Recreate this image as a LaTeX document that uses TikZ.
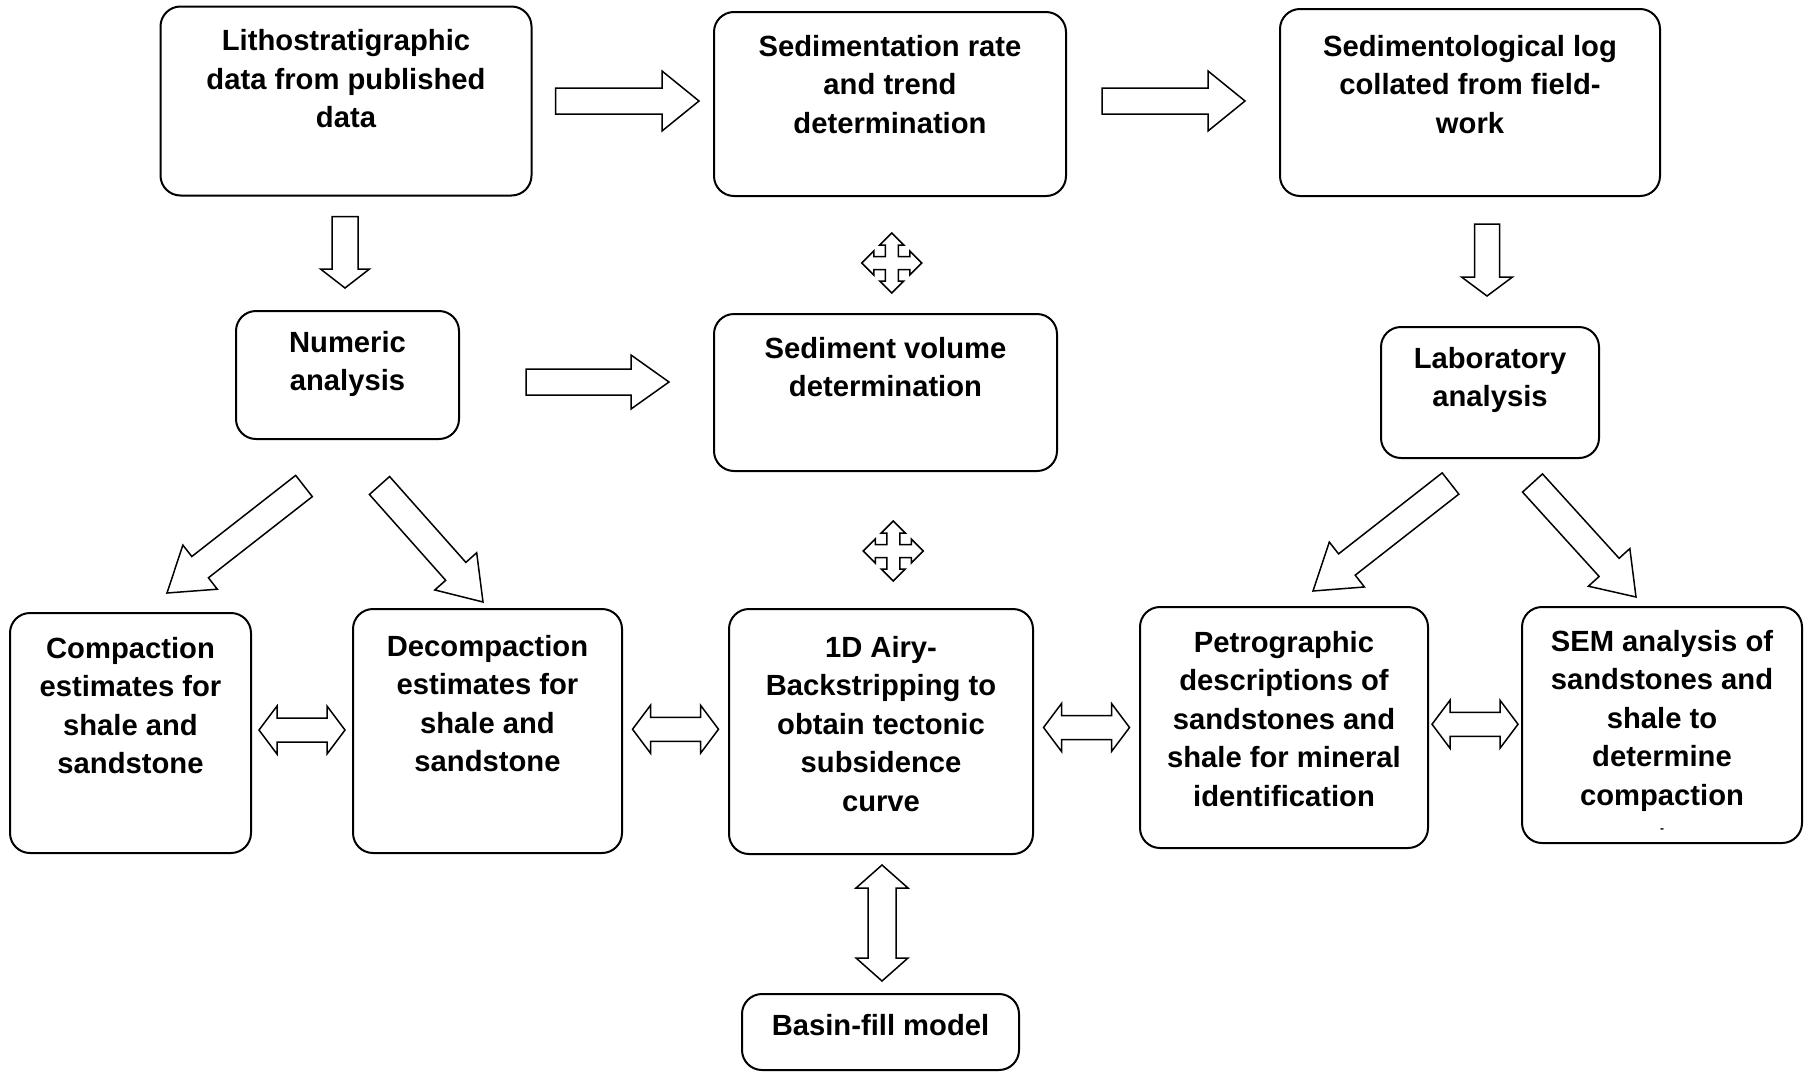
\documentclass[tikz,border=0pt]{standalone}
\usepackage{fontspec}
\setmainfont{Liberation Sans}
\usetikzlibrary{calc}

% angle and length between two points, kept for the block arrows
\newcommand\arrsetup[2]{%
  \path let \p1=#1, \p2=#2 in \pgfextra{%
    \pgfmathsetmacro\arrang{atan2((\y2)-(\y1),(\x2)-(\x1))}\global\let\arrang\arrang
    \pgfmathsetmacro\arrlen{veclen((\x2)-(\x1),(\y2)-(\y1))}\global\let\arrlen\arrlen};
}
% #1 tail, #2 tip, #3 shaft half width, #4 head half width, #5 head length
\newcommand\blkarrow[5]{%
  \arrsetup{#1}{#2}
  \draw[blk, shift={#1}, rotate=\arrang] (0,-#3) -- ({\arrlen-#5},-#3) -- ({\arrlen-#5},-#4)
    -- (\arrlen,0) -- ({\arrlen-#5},#4) -- ({\arrlen-#5},#3) -- (0,#3) -- cycle;
}
\newcommand\dblarrow[5]{%
  \arrsetup{#1}{#2}
  \draw[blk, shift={#1}, rotate=\arrang] (0,0) -- (#5,-#4) -- (#5,-#3) -- ({\arrlen-#5},-#3)
    -- ({\arrlen-#5},-#4) -- (\arrlen,0) -- ({\arrlen-#5},#4) -- ({\arrlen-#5},#3)
    -- (#5,#3) -- (#5,#4) -- cycle;
}
\newcommand\crossarrow[1]{%
  \draw[blk, shift={#1}] (6.5,-6.5) \foreach \r in {0,-90,-180,-270}{
    -- ([rotate=\r]6.5,-6.5) -- ([rotate=\r]18,-6.5) -- ([rotate=\r]18,-12) -- ([rotate=\r]30,0)
    -- ([rotate=\r]18,12) -- ([rotate=\r]18,6.5)} -- cycle;
}

\begin{document}
\begin{tikzpicture}[x=1pt, y=-1pt,
    box/.style={draw, line width=2, rounded corners=20, inner sep=0},
    txt/.style={anchor=north, align=center, inner sep=0, font=\fontsize{29.2}{38.5}\selectfont\bfseries},
    blk/.style={draw, fill=white, line width=1.5}]
  \useasboundingbox (0,0) rectangle (1804,1071);

  % boxes: name / centre / size / text offset / text
  \foreach \n/\cx/\cy/\w/\h/\p/\lbl in {
      litho/346/101/371/189/24/{Lithostratigraphic\\data from published\\data},
      rate/890/104/352/184/24/{Sedimentation rate\\and trend\\determination},
      sedlog/1470/102.5/380/187/27/{Sedimentological log\\collated from field-\\work},
      numeric/347.5/375/223/128/21/{Numeric\\analysis},
      volume/885.5/392.5/343/157/24/{Sediment volume\\determination},
      lab/1490/392.5/218/131/21/{Laboratory\\analysis},
      comp/130.5/733/241/240/25/{Compaction\\estimates for\\shale and\\sandstone},
      decomp/487.5/731/269/244/27/{Decompaction\\estimates for\\shale and\\sandstone},
      airy/881/731.5/304/245/28/{1D Airy-\\Backstripping to\\obtain tectonic\\subsidence\\curve},
      petro/1284/727.5/288/241/25/{Petrographic\\descriptions of\\sandstones and\\shale for mineral\\identification},
      sem/1662/725/280/236/24/{SEM analysis of\\sandstones and\\shale to\\determine\\compaction\\[-11pt]{\fontsize{12}{12}\selectfont -}},
      basin/880.5/1032/277/76/21/{Basin-fill model}}{
    \node[box, minimum width=\w, minimum height=\h] (\n) at (\cx,\cy) {};
    \node[txt] (\n-t) at ([yshift=-\p]\n.north) {\lbl};
  }

  % top row
  \blkarrow{($(litho.east)+(23,0)$)}{($(litho.east -| rate.west)+(-14,0)$)}{13}{30}{37}
  \blkarrow{($(rate.east)+(35,-3)$)}{($(rate.east -| sedlog.west)+(-34,-3)$)}{13}{30}{37}
  \blkarrow{($(litho.south)+(-1,20)$)}{($(litho.south |- numeric.north)+(-1,-22)$)}{13}{24.5}{19}
  \blkarrow{($(sedlog.south)+(17,27)$)}{($(sedlog.south |- lab.north)+(17,-30)$)}{12.5}{25.5}{19}
  \blkarrow{($(numeric.east)+(66,7)$)}{($(numeric.east -| volume.west)+(-44,7)$)}{13}{27}{38}

  \crossarrow{($(rate.south)!.5!(volume.north)+(4,8)$)}
  \crossarrow{($(volume.south)!.5!(airy.north)+(10,11)$)}

  % diagonal ones
  \blkarrow{($(numeric.south)+(-43.5,46)$)}{($(comp.north)+(36.5,-19)$)}{13.5}{28}{42}
  \blkarrow{($(numeric.south)+(32,45.5)$)}{($(decomp.north)+(-4.5,-6)$)}{13.5}{28}{41}
  \blkarrow{($(lab.south)+(-39.5,24.5)$)}{($(petro.north)+(29,-15)$)}{13.5}{28.5}{43}
  \blkarrow{($(lab.south)+(42.5,24)$)}{($(sem.north)+(-26,-9)$)}{13.5}{28}{40}

  % bottom row
  \foreach \a/\b in {comp/decomp,decomp/airy,airy/petro,petro/sem}
    \dblarrow{($(\a.east)!.5!(\b.west)+(-43,-2)$)}{($(\a.east)!.5!(\b.west)+(43,-2)$)}{12}{24}{18};
  \dblarrow{($(airy.south)+(1,10)$)}{($(airy.south |- basin.north)+(1,-12)$)}{14}{26}{23}
\end{tikzpicture}
\end{document}
